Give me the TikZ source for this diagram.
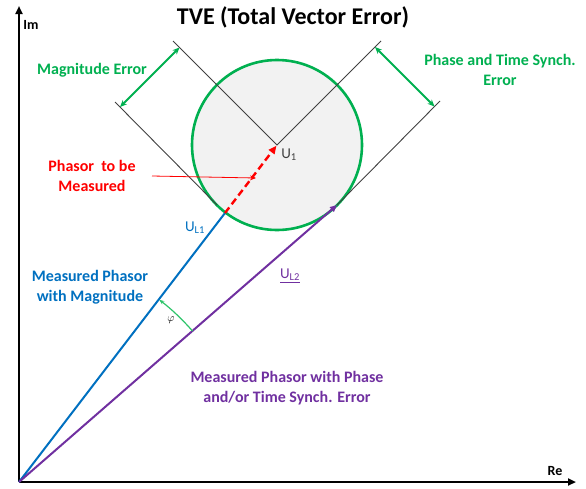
\documentclass[tikz,border=0pt]{standalone}
\usepackage{fontspec}
\setmainfont{Carlito}
\usetikzlibrary{arrows.meta}
\definecolor{tvegreen}{HTML}{00B050}
\definecolor{tveblue}{HTML}{0070C0}
\definecolor{tvepurple}{HTML}{7030A0}
\definecolor{tvered}{HTML}{FF0000}
\definecolor{tvegray}{HTML}{F2F2F2}
\definecolor{tvedark}{HTML}{404040}
\definecolor{arcgreen}{HTML}{2EC46A}
\begin{document}
\begin{tikzpicture}[x=1pt,y=-1pt,
  lbl/.style={font=\bfseries\fontsize{16}{20}\selectfont, align=center, inner sep=0pt},
  axis/.style={line width=2pt, -{Triangle[length=8pt,width=7pt]}},
  guide/.style={tvedark, line width=0.9pt},
  errarrow/.style={tvegreen, line width=1.8pt, {Stealth[length=7pt,width=6pt]}-{Stealth[length=7pt,width=6pt]}},
  phasor/.style={line width=2pt}]
\useasboundingbox (0,0) rectangle (586,488);
% key points
\coordinate (O) at (19,482);
\coordinate (ImEnd) at (19,6);
\coordinate (ReEnd) at (576,482);
\coordinate (U1) at (277,145);
\coordinate (VL) at (173,41);
\coordinate (VR) at (381,41);
\coordinate (OL1) at (115,102);
\coordinate (OL2) at (217,205);
\coordinate (OR1) at (440,101);
\coordinate (OR2) at (337,205);
\coordinate (C1) at (225,213);
% circle
\fill[tvegray] (U1) circle (85pt);
\draw[tvegreen, line width=2.6pt] (U1) circle (85pt);
% guide lines
\draw[guide] (VL) -- (U1) -- (VR);
\draw[guide] (OL1) -- (OL2);
\draw[guide] (OR1) -- (OR2);
% error arrows
\coordinate (ME1) at (120,107);
\coordinate (ME2) at (179.5,47.5);
\coordinate (PE1) at (375,47);
\coordinate (PE2) at (434.5,106.5);
\draw[errarrow] (ME1) -- (ME2);
\draw[errarrow] (PE1) -- (PE2);
% axes
\draw[axis] (O) -- (ImEnd);
\draw[axis] (O) -- (ReEnd);
% phasors
\draw[phasor, tveblue] (O) -- (C1);
\draw[phasor, tvered, line width=2.4pt, dash pattern=on 7pt off 4pt, -{Triangle[length=8pt,width=7pt]}, shorten >=1pt] (C1) -- (U1);
\draw[phasor, tvepurple, -{Triangle[length=7pt,width=6pt]}] (O) -- (OR2);
% phi arc
\draw[arcgreen, line width=1.2pt, -{Stealth[length=5pt,width=4pt]}] (O) ++(-41:230) arc (-41:-52.4:230);
% labels
\node[font=\bfseries\fontsize{24}{28}\selectfont, inner sep=0pt] (title) at (293,17) {TVE (Total Vector Error)};
\node[font=\bfseries\fontsize{14}{16}\selectfont, inner sep=0pt] (im) at (31,25) {Im};
\node[font=\bfseries\fontsize{14}{16}\selectfont, inner sep=0pt] (re) at (555,471) {Re};
\node[lbl, tvegreen] (mag) at (92,70) {Magnitude Error};
\node[lbl, tvegreen] (phase) at (500,70) {Phase and Time Synch.\\Error};
\node[lbl, tvered] (ptbm) at (92,176) {Phasor\ \ to be\\Measured};
\coordinate (ptbmStart) at (152,176);
\coordinate (ptbmEnd) at (256,178);
\draw[tvered, line width=0.8pt, -{Stealth[length=6pt,width=5pt]}] (ptbmStart) -- (ptbmEnd);
\node[font=\fontsize{15}{17}\selectfont, text=tvedark, inner sep=0pt] (u1lbl) at (289,155) {U\textsubscript{1}};
\node[font=\fontsize{15}{17}\selectfont, text=tveblue, inner sep=0pt] (ul1) at (195,228) {U\textsubscript{L1}};
\node[font=\fontsize{15}{17}\selectfont, text=tvepurple, inner sep=0pt] (ul2) at (290,276) {\underline{U\textsubscript{L2}}};
\node[lbl, tveblue] (mpm) at (90,287) {Measured Phasor\\with Magnitude};
\node[font=\bfseries\fontsize{11}{13}\selectfont, inner sep=0pt] (phi) at (171,320) {$\varphi$};
\node[lbl, tvepurple] (mpp) at (287,388) {Measured Phasor with Phase\\and/or Time Synch. Error};
\end{tikzpicture}
\end{document}
